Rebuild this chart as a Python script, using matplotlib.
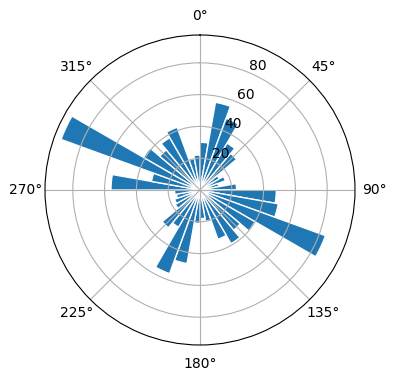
import numpy as np
import matplotlib
matplotlib.use("Agg")
import matplotlib.pyplot as plt

# direction bins (degrees, bin centres) and bar lengths
directions = [5, 15, 25, 35, 45, 55, 65, 75, 85,
              95, 105, 115, 125, 135, 145, 155, 165, 175,
              185, 195, 205, 215, 225, 235, 245, 255, 265,
              275, 285, 295, 305, 315, 325, 335, 345, 355]
counts = [30, 56, 48, 34, 30, 14, 17, 12, 23,
          48, 50, 84, 40, 33, 39, 33, 20, 18,
          21, 47, 56, 27, 31, 18, 17, 15, 16,
          56, 31, 93, 41, 33, 38, 42, 20, 22]
bin_width = 10

fig = plt.figure(figsize=(3.96, 3.8), dpi=100)
ax = fig.add_axes([45 / 396, 35 / 380, 310 / 396, 310 / 380], projection="polar")
ax.set_theta_zero_location("N")
ax.set_theta_direction(-1)

ax.bar(np.deg2rad(directions), counts, width=np.deg2rad(bin_width),
       color="#1f77b4", edgecolor="white", linewidth=1)
ax.set_ylim(0, 97.5)
ax.set_yticks([20, 40, 60, 80])

fig.savefig("out.png", dpi=100)
